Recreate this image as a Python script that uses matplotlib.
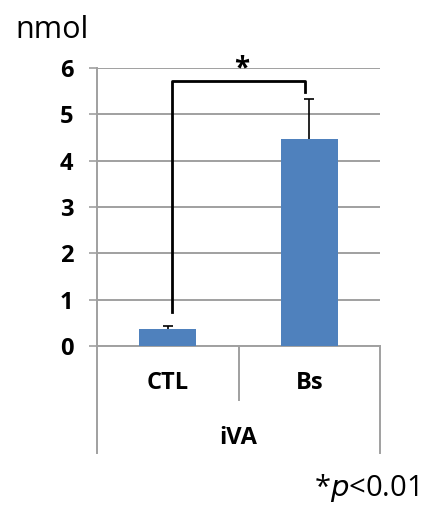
import matplotlib.pyplot as plt
from matplotlib.lines import Line2D

groups = ['CTL', 'Bs']
group_label = 'iVA'
means = [0.37, 4.47]
errs = [0.06, 0.86]
y_ticks = [0, 1, 2, 3, 4, 5, 6]

# significance bracket: left leg bottom, top, right leg bottom
bracket_left = 0.73
bracket_top = 5.72
bracket_right = 5.49

plt.rcParams['font.family'] = ['Open Sans', 'DejaVu Sans']

fig = plt.figure(figsize=(4.22, 5.05), dpi=100)
ax = fig.add_axes([97 / 422, 159 / 505, 283 / 422, 278 / 505])

x = list(range(len(groups)))
ax.bar(x, means, width=0.4, color='#4F81BD', zorder=3)
# upper-only error bars with a cap on top
tops = [m + e for m, e in zip(means, errs)]
ax.vlines(x, means, tops, color='black', linewidth=1.2, zorder=4)
ax.plot(x, tops, linestyle='none', marker='_', markersize=7,
        markeredgewidth=1.2, color='black', zorder=4)

ax.set_xlim(-0.5, 1.5)
ax.set_ylim(0, 6)
ax.set_yticks(y_ticks)
ax.set_yticklabels([str(t) for t in y_ticks], fontsize=17, fontweight='bold')
ax.tick_params(axis='y', length=6, width=1.2, color='#a0a0a0', pad=11)
ax.tick_params(axis='x', length=0, labelbottom=False)
ax.yaxis.grid(True, color='#a0a0a0', linewidth=1.4, zorder=0)
ax.set_axisbelow(True)

for side in ['top', 'right']:
    ax.spines[side].set_visible(False)
for side in ['left', 'bottom']:
    ax.spines[side].set_color('#a0a0a0')
    ax.spines[side].set_linewidth(1.4)

# category separators below the axis
trans = ax.get_xaxis_transform()
for xv, ybot in [(-0.5, -0.385), (0.5, -0.194), (1.5, -0.385)]:
    ax.add_line(Line2D([xv, xv], [0, ybot], transform=trans, color='#a0a0a0',
                       linewidth=1.4, clip_on=False))

for xi, g in zip(x, groups):
    ax.text(xi, -0.133, g, transform=trans, ha='center', va='center',
            fontsize=17, fontweight='bold')
ax.text(0.5, -0.331, group_label, transform=trans, ha='center', va='center',
        fontsize=17, fontweight='bold')

# bracket
ax.plot([0.03, 0.03, 0.97, 0.97], [bracket_left, bracket_top, bracket_top, bracket_right],
        color='black', linewidth=2, zorder=5, clip_on=False)
ax.text(0.52, bracket_top - 0.05, '*', ha='center', va='bottom', fontsize=20,
        fontweight='bold')

fig.text(15 / 422, 1 - 30 / 505, 'nmol', ha='left', va='center', fontsize=22)
fig.text(418 / 422, 1 - 488 / 505, r'*$\it{p}$<0.01', ha='right', va='center',
         fontsize=21)

fig.savefig('out.png', dpi=100)
